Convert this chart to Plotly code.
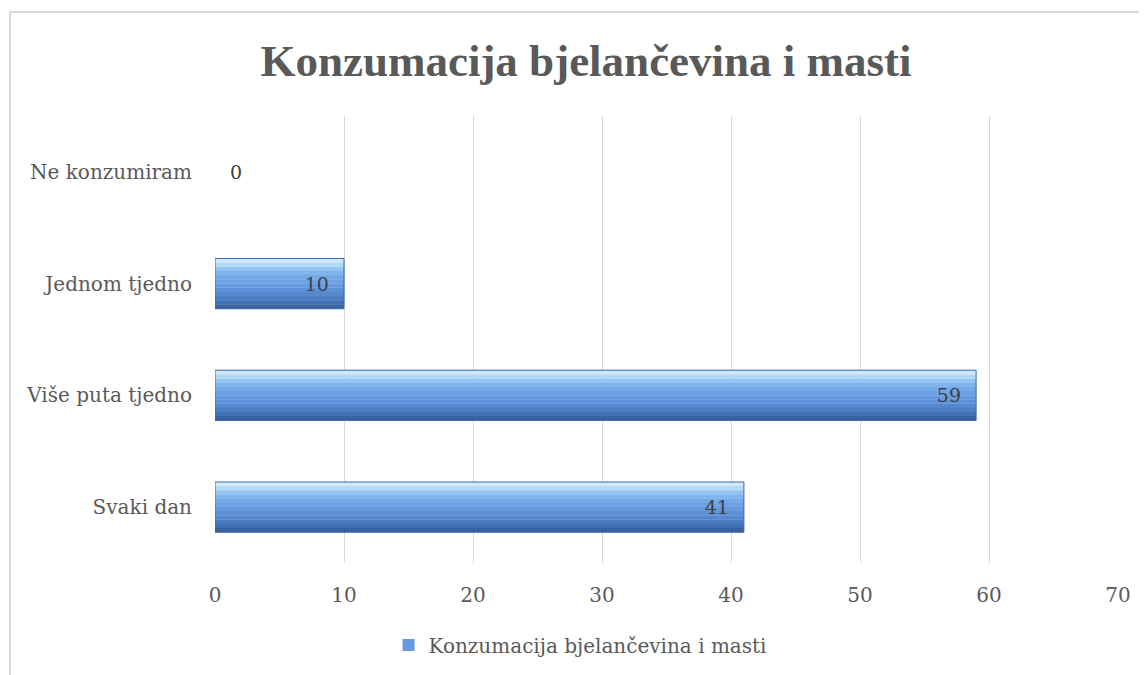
import plotly.graph_objects as go

# Data
categories = ["Svaki dan", "Više puta tjedno", "Jednom tjedno", "Ne konzumiram"]
values = [41, 59, 10, 0]
series_name = "Konzumacija bjelančevina i masti"
title_text = "Konzumacija bjelančevina i masti"

# page has an 8px body margin, so figure coords = page coords - 8
L, R, T, B = 207, 37, 108, 120
W, H = 1147, 675
pw, ph = W - L - R, H - T - B
FONT = "DejaVu Serif, Liberation Serif, serif"
TITLE_FONT = "Liberation Serif, DejaVu Serif, serif"


def px_x(p):
    return (p - L) / pw


def px_y(p):
    return (H - B - p) / ph


fig = go.Figure()

# bevel gradient, top to bottom (offsets in category units)
bar_w = 0.45
gradient = ["#cfeafc", "#b2d9f8", "#94c4f1", "#80b5ec", "#74a9e8", "#6da2e4",
            "#6699df", "#5f91d8", "#5688d0", "#4c7dc5", "#4170b5", "#38629f"]
n = len(gradient)
step = bar_w / n
for i, col in enumerate(gradient):
    fig.add_trace(go.Bar(
        y=categories, x=values, orientation="h",
        name=series_name, showlegend=(i == 6), legendgroup="s",
        width=step + 0.002, offset=bar_w / 2 - (i + 1) * step,
        marker=dict(color=col, line=dict(width=0)), hoverinfo="skip",
    ))

# outline + labels
fig.add_trace(go.Bar(
    y=categories, x=values, orientation="h", showlegend=False, legendgroup="s",
    width=bar_w, offset=-bar_w / 2,
    marker=dict(color="rgba(0,0,0,0)",
                line=dict(color=["#3e6aa6" if v > 0 else "rgba(0,0,0,0)" for v in values], width=1)),
    texttemplate=["%{x}\u00a0\u00a0" if v > 0 else "\u00a0\u00a0%{x}" for v in values],
    textposition=["inside" if v > 0 else "outside" for v in values],
    insidetextanchor="end",
    textfont=dict(family=FONT, size=19, color="#404040"),
    cliponaxis=False,
))

fig.update_layout(
    width=W, height=H,
    barmode="overlay",
    paper_bgcolor="white", plot_bgcolor="white",
    margin=dict(l=L, r=R, t=T, b=B, autoexpand=False),
    font=dict(family=FONT, color="#595959", size=20),
    title=dict(text="<b>" + title_text + "</b>", x=578 / W, xref="container", xanchor="center",
               y=1 - 52 / H, yref="container", yanchor="middle",
               font=dict(family=TITLE_FONT, size=45, color="#595959")),
    xaxis=dict(range=[0, 70], dtick=10, showgrid=True, gridcolor="#d9d9d9", gridwidth=1,
               zeroline=False, showline=False, ticks="", ticklabelstandoff=18, automargin=False,
               tickfont=dict(size=20, color="#595959")),
    yaxis=dict(categoryorder="array", categoryarray=categories, showgrid=False,
               showline=False, ticks="", ticklabelstandoff=22, automargin=False,
               tickfont=dict(size=20, color="#595959")),
    legend=dict(orientation="h", x=572 / W, xanchor="center", xref="container",
                y=(H - 637) / H, yref="container", yanchor="middle",
                font=dict(size=20, color="#595959")),
    showlegend=True,
    shapes=[dict(type="rect", xref="paper", yref="paper",
                 x0=px_x(2), x1=px_x(1160), y0=px_y(4), y1=px_y(690),
                 line=dict(color="#d9d9d9", width=2), fillcolor="rgba(0,0,0,0)", layer="below")],
)

fig.write_html("out.html")
